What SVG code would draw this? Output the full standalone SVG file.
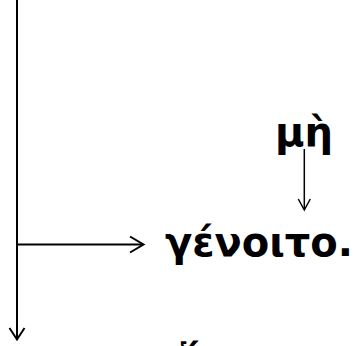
<svg xmlns="http://www.w3.org/2000/svg" width="358" height="346" viewBox="0 0 358 346">
<style>
.t{font-family:"DejaVu Sans",sans-serif;font-weight:bold;font-size:40px;fill:#000}
.c{stroke:#000;stroke-width:2;fill:none}
.c2{stroke:#000;stroke-width:1.5;fill:none}
</style>
<g id="connectors">
<path class="c" d="M17,0 V339"/>
<path class="c" d="M9.5,328 L17,339.5 L24.5,328"/>
<path class="c" d="M17,244.5 H143"/>
<path class="c" d="M130,236.5 L143.5,244.5 L130,252.5"/>
<path class="c2" d="M304.3,149 V209"/>
<path class="c2" d="M298.3,199 L304.3,210 L310.3,199"/>
</g>
<g id="node-me"><text class="t" x="275" y="146">μὴ</text></g>
<g id="node-genoito"><text class="t" x="165" y="256">γένοιτο.</text></g>
<g id="node-bottom"><text class="t" x="178" y="373">ἕ</text></g>
</svg>
